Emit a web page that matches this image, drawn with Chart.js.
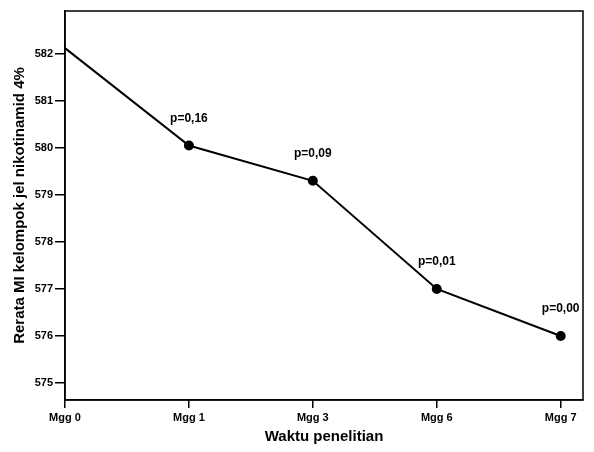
<!DOCTYPE html>
<html>
<head>
<meta charset="utf-8">
<script src="https://cdn.jsdelivr.net/npm/chart.js@4"></script>
<style>
  html, body { margin: 0; padding: 0; background: #fff; }
  #wrap { width: 594px; height: 452px; }
</style>
</head>
<body>
<div id="wrap"><canvas id="miChart" width="594" height="452"></canvas></div>
<script>
const categories = ["Mgg 0", "Mgg 1", "Mgg 3", "Mgg 6", "Mgg 7"];
const miValues = [582.12, 580.05, 579.3, 577.0, 576.0];
const pLabels = ["", "p=0,16", "p=0,09", "p=0,01", "p=0,00"];
const yTicks = [575, 576, 577, 578, 579, 580, 581, 582];

const font = "'Liberation Sans', Arial, sans-serif";

// box round the plot (top and right edges)
const frame = {
  id: "frame",
  afterDraw(chart) {
    const { ctx, chartArea: a } = chart;
    ctx.save();
    ctx.strokeStyle = "#000";
    ctx.lineWidth = 1.5;
    ctx.strokeRect(a.left, a.top, a.right - a.left, a.bottom - a.top);
    ctx.restore();
  }
};

// p-values above the points
const pText = {
  id: "pText",
  afterDatasetsDraw(chart) {
    const ctx = chart.ctx;
    const meta = chart.getDatasetMeta(0);
    ctx.save();
    ctx.fillStyle = "#000";
    ctx.font = "bold 12px " + font;
    ctx.textAlign = "center";
    ctx.textBaseline = "middle";
    meta.data.forEach((pt, i) => {
      if (pLabels[i]) ctx.fillText(pLabels[i], pt.x, pt.y - 27);
    });
    ctx.restore();
  }
};

new Chart(document.getElementById("miChart").getContext("2d"), {
  type: "line",
  data: {
    datasets: [{
      data: miValues.map((v, i) => ({ x: i, y: v })),
      borderColor: "#000",
      borderWidth: 2,
      backgroundColor: "#000",
      pointRadius: ctx => ctx.dataIndex === 0 ? 0 : 4,
      pointHoverRadius: 4,
      tension: 0
    }]
  },
  options: {
    responsive: false,
    animation: false,
    layout: { padding: { top: 11, right: 11, left: 0, bottom: 0 } },
    plugins: { legend: { display: false }, tooltip: { enabled: false } },
    scales: {
      x: {
        type: "linear",
        min: 0,
        max: 4.18,
        afterBuildTicks: s => { s.ticks = categories.map((c, i) => ({ value: i })); },
        afterFit: s => { s.height = 52; },
        ticks: {
          color: "#000",
          font: { family: font, size: 11, weight: "bold" },
          padding: 3,
          maxRotation: 0,
          callback: v => categories[v]
        },
        grid: { display: true, drawOnChartArea: false, drawTicks: true, tickLength: 8, color: "#000", lineWidth: 1.5 },
        border: { display: true, color: "#000", width: 1.5 },
        title: {
          display: true,
          text: "Waktu penelitian",
          color: "#000",
          font: { family: font, size: 15, weight: "bold" },
          padding: { top: 0, bottom: 6 }
        }
      },
      y: {
        min: 574.64,
        max: 582.91,
        afterBuildTicks: s => { s.ticks = yTicks.map(v => ({ value: v })); },
        afterFit: s => { s.width = 65; },
        ticks: {
          color: "#000",
          font: { family: font, size: 11, weight: "bold" },
          padding: 2
        },
        grid: { display: true, drawOnChartArea: false, drawTicks: true, tickLength: 10, color: "#000", lineWidth: 1.5 },
        border: { display: true, color: "#000", width: 1.5 },
        title: {
          display: true,
          text: "Rerata MI kelompok jel nikotinamid 4%",
          color: "#000",
          font: { family: font, size: 15, weight: "bold" },
          padding: { top: 11, bottom: 0 }
        }
      }
    }
  },
  plugins: [frame, pText]
});
</script>
</body>
</html>
